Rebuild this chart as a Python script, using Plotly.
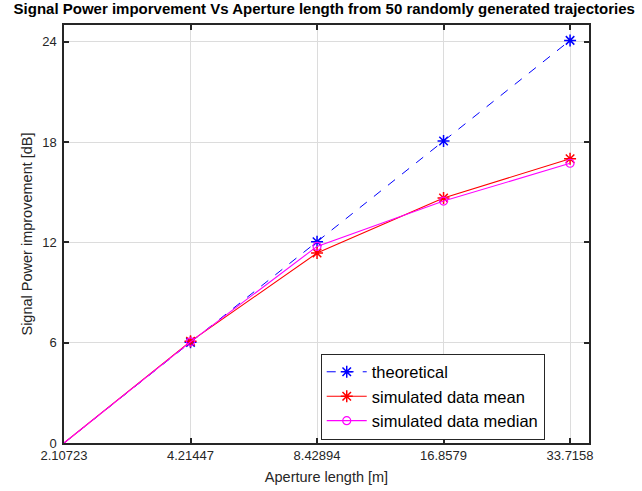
import plotly.graph_objects as go
import math

aperture = [2.10723, 4.21447, 8.42894, 16.8579, 33.7158]
tick_labels = ["2.10723", "4.21447", "8.42894", "16.8579", "33.7158"]
theoretical = [0.0, 6.02, 12.04, 18.06, 24.08]
sim_mean = [0.0, 6.08, 11.36, 14.65, 17.0]
sim_median = [0.0, 6.05, 11.76, 14.47, 16.73]
y_ticks = [0, 6, 12, 18, 24]

font_family = "Liberation Sans, Arial, Helvetica, sans-serif"

fig = go.Figure()
fig.add_trace(go.Scatter(
    x=aperture, y=theoretical, name="theoretical", mode="lines+markers",
    line=dict(color="#0000ff", width=1, dash="dash"),
    marker=dict(symbol="asterisk-open", size=10, color="#0000ff", line=dict(width=1.5, color="#0000ff")),
    cliponaxis=False))
fig.add_trace(go.Scatter(
    x=aperture, y=sim_mean, name="simulated data mean", mode="lines+markers",
    line=dict(color="#ff0000", width=1.1),
    marker=dict(symbol="asterisk-open", size=10, color="#ff0000", line=dict(width=1.5, color="#ff0000")),
    cliponaxis=False))
fig.add_trace(go.Scatter(
    x=aperture, y=sim_median, name="simulated data median", mode="lines+markers",
    line=dict(color="#ff00ff", width=1.1),
    marker=dict(symbol="circle-open", size=8, color="#ff00ff", line=dict(width=1.2, color="#ff00ff")),
    cliponaxis=False))

axis_common = dict(
    showline=True, linecolor="#262626", linewidth=1.5, mirror="allticks",
    ticks="inside", ticklen=5, tickwidth=1.5, tickcolor="#262626",
    showgrid=True, gridcolor="#dcdcdc", gridwidth=1, zeroline=False,
    automargin=False,
    tickfont=dict(family=font_family, size=13, color="#262626"),
)

fig.update_xaxes(
    type="log",
    range=[math.log10(aperture[0]), math.log10(37.4)],
    tickvals=aperture, ticktext=tick_labels,
    title=dict(text="Aperture length [m]", font=dict(family=font_family, size=14.5, color="#262626"), standoff=10),
    **axis_common)
fig.update_yaxes(
    range=[0, 25], tickvals=y_ticks, ticktext=[str(v) for v in y_ticks],
    ticklabelstandoff=3,
    title=dict(text="Signal Power improvement [dB]", font=dict(family=font_family, size=14.5, color="#262626"), standoff=6),
    **axis_common)

fig.update_layout(
    width=642, height=491,
    margin=dict(l=64, r=53, t=25, b=48),
    paper_bgcolor="white", plot_bgcolor="white",
    title=dict(text="<b>Signal Power imporvement Vs Aperture length from 50 randomly generated trajectories</b>",
               font=dict(family=font_family, size=15, color="black"),
               x=0.505, xanchor="center", y=0.992, yanchor="top"),
    legend=dict(x=0.489, y=0.214, xanchor="left", yanchor="top",
                bgcolor="white", bordercolor="#262626", borderwidth=1,
                font=dict(family=font_family, size=16.5, color="black"),
                tracegroupgap=0, itemwidth=40),
    showlegend=True,
)

fig.write_html("out.html")
